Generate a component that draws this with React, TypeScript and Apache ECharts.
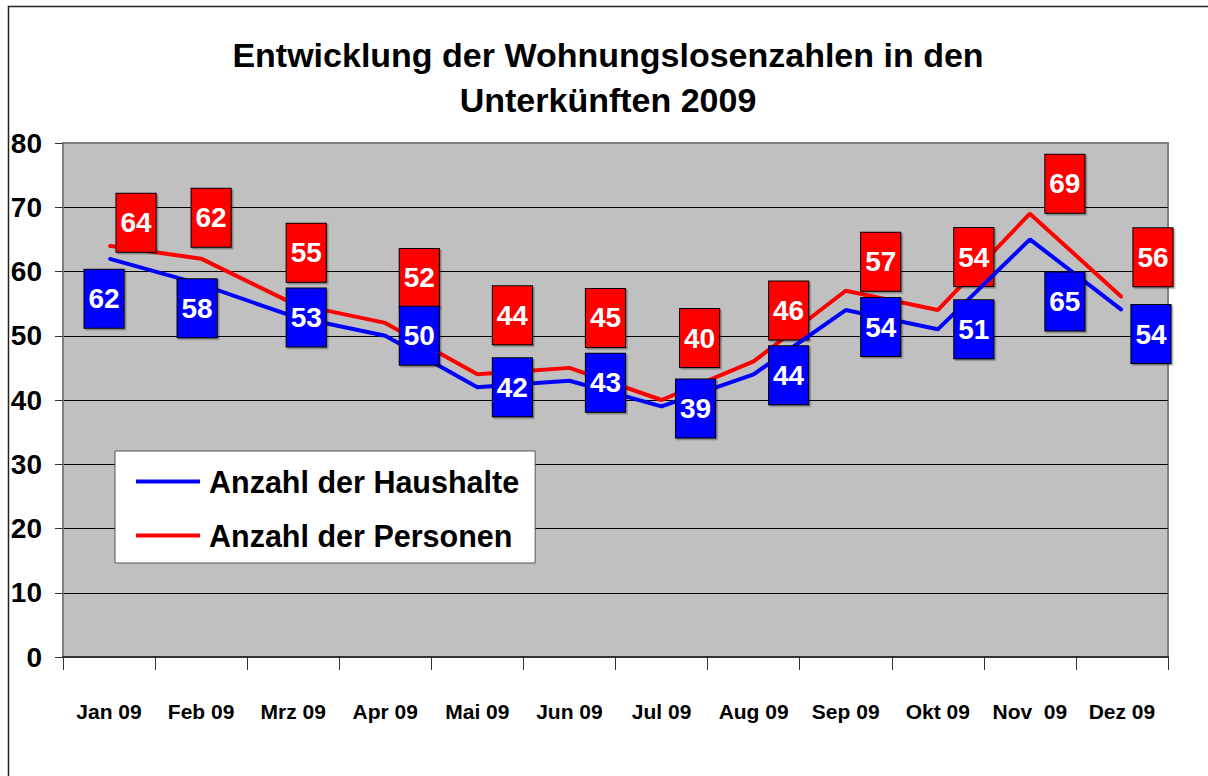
import React, { useEffect, useRef } from "react";
import * as echarts from "echarts";

// ---- data ----
const months = ["Jan 09", "Feb 09", "Mrz 09", "Apr 09", "Mai 09", "Jun 09", "Jul 09", "Aug 09", "Sep 09", "Okt 09", "Nov  09", "Dez 09"];
const haushalte = [62, 58, 53, 50, 42, 43, 39, 44, 54, 51, 65, 54];
const personen = [64, 62, 55, 52, 44, 45, 40, 46, 57, 54, 69, 56];
const seriesNames = ["Anzahl der Haushalte", "Anzahl der Personen"];
const titleLines = ["Entwicklung der Wohnungslosenzahlen in den", "Unterkünften 2009"];

// ---- layout of the data labels (pixel offsets from each point) ----
const blueLabelOffsets = [[-5, 40], [-4, 24], [13, 1], [34, 0], [35, 0], [36, 2], [34, 2], [35, 1], [35, 17], [36, 0], [35, 62], [29, 24]];
const redLabelOffsets = [[27, -23], [10, -41], [13, -51], [34, -45], [35, -59], [36, -50], [38, -62], [35, -51], [35, -29], [36, -53], [35, -30], [31, -40]];

const FONT = "'Liberation Sans', Arial, sans-serif";

function buildData(values: number[], offsets: number[][]) {
  return values.map((v, i) => ({ value: v, label: { offset: offsets[i] } }));
}

function labelStyle(bg: string) {
  return {
    show: true,
    position: "inside",
    color: "#fff",
    fontFamily: FONT,
    fontWeight: "bold",
    fontSize: 28,
    lineHeight: 28,
    backgroundColor: bg,
    borderColor: "#000",
    borderWidth: 1,
    padding: [15, 4, 15, 4],
    shadowColor: "rgba(0,0,0,0.35)",
    shadowOffsetX: 1.5,
    shadowOffsetY: 1.5,
    shadowBlur: 1,
  };
}

export default function App() {
  const ref = useRef<HTMLDivElement>(null);
  useEffect(() => {
    if (!ref.current) return;
    const chart = echarts.init(ref.current, null, { renderer: "svg" });
    chart.setOption({
      animation: false,
      backgroundColor: "#fff",
      graphic: [
        {
          type: "rect",
          z: -10,
          shape: { x: 8.5, y: 6.5, width: 1300, height: 900 },
          style: { fill: "transparent", stroke: "#222", lineWidth: 1.5 },
        },
        {
          type: "text",
          x: 608,
          y: 55,
          style: { text: titleLines[0], fontFamily: FONT, fontWeight: "bold", fontSize: 34, fill: "#000", textAlign: "center", textVerticalAlign: "middle" },
        },
        {
          type: "text",
          x: 608,
          y: 100,
          style: { text: titleLines[1], fontFamily: FONT, fontWeight: "bold", fontSize: 34, fill: "#000", textAlign: "center", textVerticalAlign: "middle" },
        },
      ],
      legend: {
        left: 115,
        top: 451,
        orient: "vertical",
        backgroundColor: "#fff",
        borderColor: "#555",
        borderWidth: 1,
        padding: [15, 16, 12, 21],
        itemGap: 23,
        itemWidth: 64,
        itemHeight: 4,
        icon: "rect",
        data: seriesNames,
        textStyle: { fontFamily: FONT, fontWeight: "bold", fontSize: 30.5, color: "#000", padding: [0, 0, 0, 4] },
      },
      grid: {
        left: 63,
        top: 143,
        width: 1105,
        height: 514,
        show: true,
        backgroundColor: "#C0C0C0",
        borderColor: "#808080",
        borderWidth: 2,
      },
      xAxis: {
        type: "category",
        data: months,
        boundaryGap: true,
        axisLine: { lineStyle: { color: "#333", width: 2 } },
        axisTick: { show: true, length: 13, interval: 0, lineStyle: { color: "#333", width: 1 } },
        axisLabel: { interval: 0, margin: 44, fontFamily: FONT, fontWeight: "bold", fontSize: 21, color: "#000" },
      },
      yAxis: {
        type: "value",
        min: 0,
        max: 80,
        interval: 10,
        axisLine: { show: true, lineStyle: { color: "#808080", width: 2 } },
        axisTick: { show: true, length: 8, lineStyle: { color: "#333" } },
        axisLabel: { margin: 21, fontFamily: FONT, fontWeight: "bold", fontSize: 28, color: "#000" },
        splitLine: {
          show: true,
          lineStyle: { color: ["#333", "#000", "#000", "#000", "#000", "#000", "#000", "#000", "#808080"], width: 1 },
        },
      },
      series: [
        {
          name: seriesNames[0],
          type: "line",
          data: buildData(haushalte, blueLabelOffsets),
          symbol: "circle",
          symbolSize: 2,
          color: "#0000FF",
          lineStyle: { color: "#0000FF", width: 4 },
          itemStyle: { color: "#0000FF" },
          label: labelStyle("#0000FF"),
          z: 3,
        },
        {
          name: seriesNames[1],
          type: "line",
          data: buildData(personen, redLabelOffsets),
          symbol: "circle",
          symbolSize: 2,
          color: "#FF0000",
          lineStyle: { color: "#FF0000", width: 4 },
          itemStyle: { color: "#FF0000" },
          label: labelStyle("#FF0000"),
          z: 2,
        },
      ],
    });
    return () => chart.dispose();
  }, []);
  return <div ref={ref} style={{ position: "absolute", left: 0, top: 0, width: 1208, height: 776 }} />;
}
